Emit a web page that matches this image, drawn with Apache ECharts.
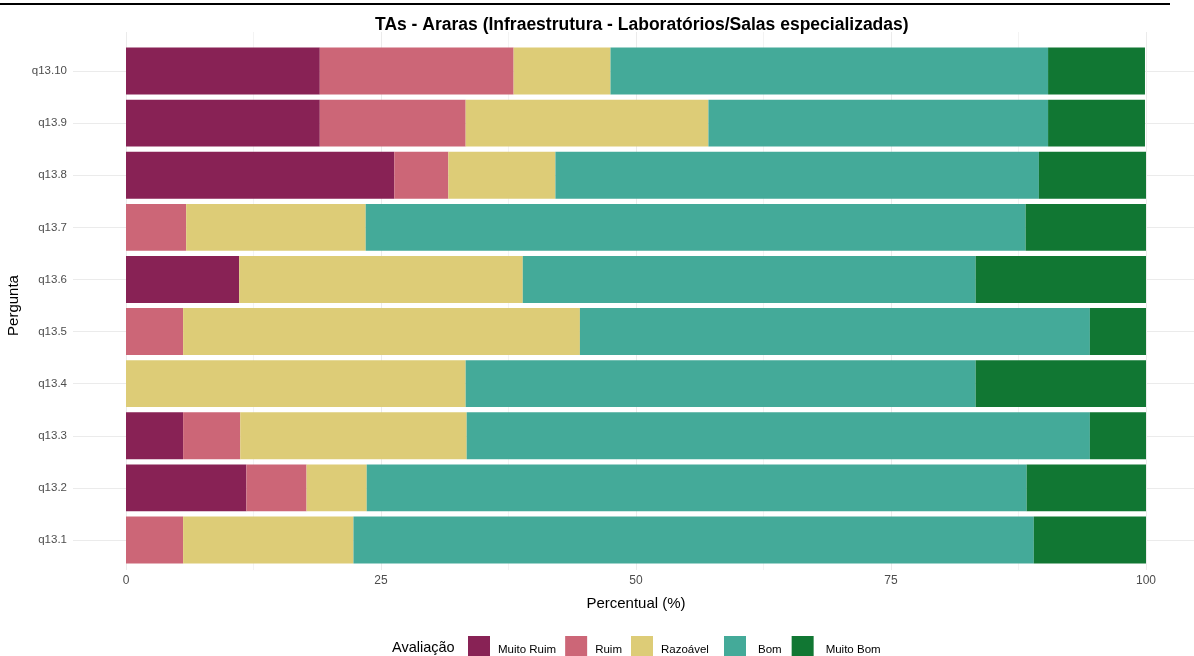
<!DOCTYPE html>
<html><head><meta charset="utf-8">
<script src="https://cdn.jsdelivr.net/npm/echarts@6/dist/echarts.min.js"></script>
<style>html,body{margin:0;padding:0;background:#fff}#c{width:1194px;height:656px}</style>
</head><body><div id="c"></div>
<script>
const categories = ['q13.1','q13.2','q13.3','q13.4','q13.5','q13.6','q13.7','q13.8','q13.9','q13.10'];
const muitoRuim = [0, 11.8, 5.6, 0, 0, 11.1, 0, 26.3, 19.0, 19.0];
const ruim      = [5.6, 5.9, 5.6, 0, 5.6, 0, 5.9, 5.3, 14.3, 19.0];
const razoavel  = [16.7, 5.9, 22.2, 33.3, 38.9, 27.8, 17.6, 10.5, 23.8, 9.5];
const bom       = [66.7, 64.7, 61.1, 50.0, 50.0, 44.4, 64.7, 47.4, 33.3, 42.9];
const muitoBom  = [11.1, 11.8, 5.6, 16.7, 5.6, 16.7, 11.8, 10.5, 9.5, 9.5];
const seriesNames = ['Muito Ruim','Ruim','Razoável','Bom','Muito Bom'];
const xTicks = [0, 25, 50, 75, 100];
const colors = ['#882255','#CC6677','#DDCC77','#44AA99','#117733'];
const FONT = '"Liberation Sans", Arial, sans-serif';

const chart = echarts.init(document.getElementById('c'), null, {renderer:'canvas'});
const data = [muitoRuim, ruim, razoavel, bom, muitoBom];
const gridColor = '#EBEBEB';

const legendText = {fontFamily: FONT, fontSize: 11.5, color: '#000',
  rich: {t: {padding: [5, 0, 0, 3], fontFamily: FONT, fontSize: 11.5, color: '#000'},
         u: {padding: [5, 0, 0, 7], fontFamily: FONT, fontSize: 11.5, color: '#000'}}};
const legendBase = {top: 631, itemWidth: 22, itemHeight: 22, icon: 'rect', textStyle: legendText};

const option = {
  backgroundColor: '#ffffff',
  animation: false,
  color: colors,
  title: {
    text: 'TAs - Araras (Infraestrutura - Laboratórios/Salas especializadas)',
    left: 370, top: 11,
    textStyle: {fontFamily: FONT, fontSize: 17.5, fontWeight: 'bold', color: '#000'}
  },
  graphic: [
    {type:'rect', shape:{x:0, y:3, width:1170, height:2}, style:{fill:'#000'}},
    {type:'text', left: 392, top: 640, style:{text:'Avaliação', font:'14.5px "Liberation Sans", Arial, sans-serif', fill:'#000'}}
  ],
  legend: [
    Object.assign({}, legendBase, {data: seriesNames.slice(0, 3), left: 463, itemGap: 9,
      formatter: n => '{t|' + n + '}'}),
    Object.assign({}, legendBase, {data: seriesNames.slice(3), left: 719, itemGap: 10,
      formatter: n => '{u|' + n + '}'})
  ],
  grid: [
    {left: 126, right: 48, top: 45, bottom: 90, outerBoundsMode: 'none', containLabel: false},
    {left: 126, right: 48, top: 32, bottom: 86, outerBoundsMode: 'none', containLabel: false},
    {left: 73, right: 0, top: 71, bottom: 116, outerBoundsMode: 'none', containLabel: false}
  ],
  xAxis: [
    {gridIndex: 0, type: 'value', min: 0, max: 100, interval: 25,
     name: 'Percentual (%)', nameLocation: 'middle', nameGap: 30,
     nameTextStyle: {fontFamily: FONT, fontSize: 15, color: '#000'},
     axisLine: {show:false}, axisTick: {show:false}, splitLine: {show:false},
     axisLabel: {fontFamily: FONT, fontSize: 12, color: '#4D4D4D', margin: 9,
       formatter: v => xTicks.includes(v) ? String(v) : ''}},
    {gridIndex: 1, type: 'value', min: 0, max: 100, interval: 25,
     axisLine: {show:false}, axisTick: {show:false}, axisLabel: {show:false},
     splitLine: {show:true, lineStyle:{color: gridColor, width: 1}},
     minorTick: {show:false, splitNumber: 2},
     minorSplitLine: {show:true, lineStyle:{color: gridColor, width: 0.6}}},
    {gridIndex: 2, type: 'value', min: 0, max: 100, show: false}
  ],
  yAxis: [
    {gridIndex: 0, type: 'category', data: categories,
     name: 'Pergunta', nameLocation: 'middle', nameGap: 99, nameRotate: 90,
     nameTextStyle: {fontFamily: FONT, fontSize: 15, color: '#000'},
     axisLine: {show:false}, axisTick: {show:false}, splitLine: {show:false},
     axisLabel: {fontFamily: FONT, fontSize: 11.5, color: '#4D4D4D', margin: 59}},
    {gridIndex: 1, type: 'category', data: categories, show: false},
    {gridIndex: 2, type: 'category', data: categories, boundaryGap: false,
     axisLine: {show:false}, axisTick: {show:false}, axisLabel: {show:false},
     splitLine: {show:true, interval: 0, lineStyle:{color: gridColor, width: 1}}}
  ],
  series: seriesNames.map((n, i) => ({
    name: n, type: 'bar', stack: 'total', xAxisIndex: 0, yAxisIndex: 0,
    barCategoryGap: '10%', data: data[i], z: 5,
    itemStyle: {color: colors[i]}
  }))
};
chart.setOption(option);
</script>
</body></html>
